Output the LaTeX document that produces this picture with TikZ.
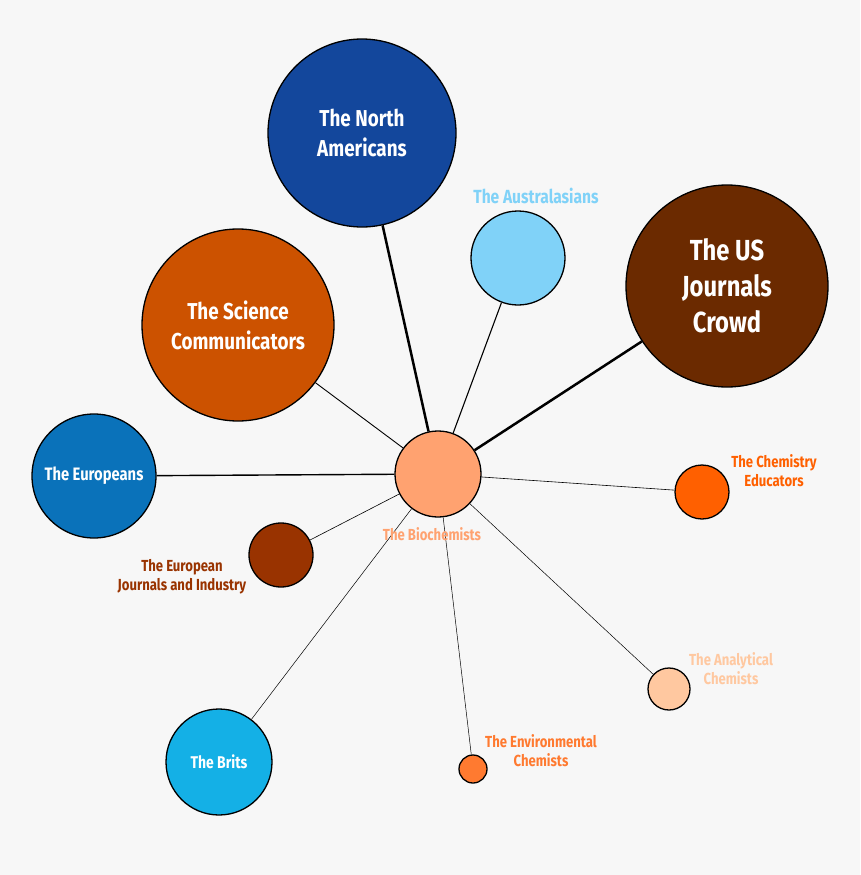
\documentclass[tikz,border=0pt]{standalone}
\usepackage{fontspec}
\setmainfont{Fira Sans}[FakeStretch=0.82]
\definecolor{bg}{HTML}{F7F7F7}
\definecolor{cNA}{HTML}{13479C}
\definecolor{cAU}{HTML}{80D2F8}
\definecolor{cUS}{HTML}{6B2A00}
\definecolor{cSC}{HTML}{CC5200}
\definecolor{cEU}{HTML}{0A72BA}
\definecolor{cBI}{HTML}{FFA270}
\definecolor{cCE}{HTML}{FF6000}
\definecolor{cEJ}{HTML}{993300}
\definecolor{cAC}{HTML}{FFC8A0}
\definecolor{cBR}{HTML}{14B0E6}
\definecolor{cEN}{HTML}{FF7A30}
\begin{document}
\begin{tikzpicture}[x=1pt,y=-1pt,
  bub/.style={circle,draw=black,line width=1.3pt,inner sep=0pt,font=\bfseries,text=white,align=center},
  lab/.style={font=\bfseries\fontsize{16}{19}\selectfont,align=center},
  edge/.style={draw=black}]
\fill[bg] (0,0) rectangle (860,875);
\useasboundingbox (0,0) rectangle (860,875);
\node[bub,fill=cBI,minimum size=86pt] (bi) at (438,474) {};
\node[bub,fill=cNA,minimum size=188pt,font=\bfseries\fontsize{23}{30}\selectfont] (na) at (362,133) {The North\\Americans};
\node[bub,fill=cAU,minimum size=94pt] (au) at (518,258) {};
\node[bub,fill=cUS,minimum size=202pt,font=\bfseries\fontsize{29}{36}\selectfont] (us) at (727,286) {The US\\Journals\\Crowd};
\node[bub,fill=cSC,minimum size=192pt,font=\bfseries\fontsize{23}{30}\selectfont] (sc) at (238,325) {The Science\\Communicators};
\node[bub,fill=cEU,minimum size=124pt,font=\bfseries\fontsize{18}{20}\selectfont] (eu) at (94,476) {The Europeans};
\node[bub,fill=cCE,minimum size=54pt] (ce) at (702,492) {};
\node[bub,fill=cEJ,minimum size=64pt] (ej) at (281,555) {};
\node[bub,fill=cAC,minimum size=42pt] (ac) at (669,689) {};
\node[bub,fill=cBR,minimum size=106pt,font=\bfseries\fontsize{17}{20}\selectfont] (br) at (219,762) {The Brits};
\node[bub,fill=cEN,minimum size=28pt] (en) at (473,769) {};
\draw[edge,line width=2.5pt] (bi) -- (na);
\draw[edge,line width=2.5pt] (bi) -- (us);
\draw[edge,line width=1.1pt] (bi) -- (au);
\draw[edge,line width=0.9pt] (bi) -- (sc);
\draw[edge,line width=1.4pt] (bi) -- (eu);
\draw[edge,line width=0.6pt] (bi) -- (ce);
\draw[edge,line width=0.6pt] (bi) -- (ej);
\draw[edge,line width=0.5pt] (bi) -- (ac);
\draw[edge,line width=0.5pt] (bi) -- (br);
\draw[edge,line width=0.5pt] (bi) -- (en);
\node[lab,text=cAU,font=\bfseries\fontsize{19}{20}\selectfont] (lau) at (536,196) {The Australasians};
\node[lab,text=cBI] (lbi) at (432,534) {The Biochemists};
\node[lab,text=cCE] (lce) at (774,471) {The Chemistry\\Educators};
\node[lab,text=cEJ] (lej) at (182,577) {The European\\Journals and Industry};
\node[lab,text=cAC] (lac) at (731,669) {The Analytical\\Chemists};
\node[lab,text=cEN] (len) at (541,751) {The Environmental\\Chemists};
\end{tikzpicture}
\end{document}
